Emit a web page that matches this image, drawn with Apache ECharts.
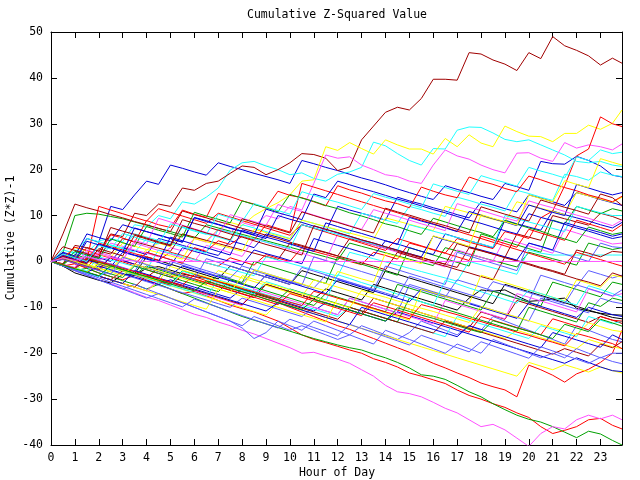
<!DOCTYPE html>
<html><head><meta charset="utf-8">
<script src="https://cdn.jsdelivr.net/npm/echarts@6/dist/echarts.min.js"></script>
<style>html,body{margin:0;padding:0;background:#fff}#c{width:640px;height:480px}</style>
</head><body><div id="c"></div>
<script>
// x positions (hour of day)
const hours = [0,0.5,1,1.5,2,2.5,3,3.5, 4,4.5,5,5.5,6,6.5,7,7.5, 8,8.5,9,9.5,10,10.5,11,11.5,
  12,12.5,13,13.5,14,14.5,15,15.5, 16,16.5,17,17.5,18,18.5,19,19.5, 20,20.5,21,21.5,22,22.5,23,23.5, 23.9];

// cumulative (Z*Z)-1 series
const s01 = [0,-1,-0.5,-1.5,-2.5,-3.3,-4,-3, -4,-5,-6,-7,-6.5,-7.5,-8.5,-9.5, -10.3,-11,-12,-13,-14.5,-16,-17,-17.7, -18.5,-19.3,-20,-21.2,-22,-23,-24.3,-25, -25.8,-26.6,-28,-29.2,-30,-31,-31.8,-33, -34,-36,-37.5,-36.8,-36,-34.5,-34.2,-35.7, -36.5];
const s02 = [0,-1,-2,-1.5,-2.5,-3.3,-4.2,-5, -6,-5,-6,-7,-8,-9,-10,-11, -12,-12.8,-13.6,-14.4,-15.2,-16,-16.8,-17.5, -18.2,-18.8,-19.3,-20.2,-21,-22,-23.2,-24.7, -25,-25.7,-27,-28.4,-29.5,-31,-32.3,-33.5, -34.4,-35,-36,-37.2,-38.4,-37,-37.6,-39, -40];
const s03 = [0,1,0.3,5,4.2,12,11.3,14.5, 17.5,16.8,21,20.3,19.5,18.8,21.5,20.7, 20,19.2,18.5,17.8,17,22,21.3,20.5, 19.8,19,18.2,17.5,16.7,15.8,15,14.2, 13.5,16.5,15.7,15,14.2,13.5,17,16.3, 15.5,21.8,21.3,21.2,22.9,22,20.8,18.8, 18.4];
const s04 = [0,-1,-2,-3,-4,-4.8,-5.8,-6.8, -7.8,-8.5,-9.5,-10.5,-11.5,-12.2,-13.2,-14, -15,-15.8,-16.8,-17.8,-18.8,-20,-19.8,-20.6, -21.3,-22.2,-23.6,-25,-27,-28.4,-28.8,-29.5, -30.7,-32,-33,-34.5,-36,-35.5,-36.7,-38.5, -40.3,-37.5,-36,-36.5,-34.5,-33.5,-34.3,-33.5, -34.5];
const s05 = [0,1,2.5,1.8,4.5,5,4.3,8, 7.5,10,9.3,13,12.5,14,16,19.9, 21.5,21.8,20.8,20,18.9,19.3,18.1,17.5, 19,19.5,20.5,26,25.2,23.5,22,21, 24.6,24.5,28.6,29.3,29.2,28,26.6,26.1, 26.5,25.4,24.3,23.2,21.8,21.5,21.8,21, 20.7];
const s06 = [0,-0.5,3.5,3,2.2,6,5.4,10.5, 10,12.5,12,16,15.5,17,17.5,19.2, 20.8,20.5,18.9,20,21.5,23.5,23.3,22.5, 19.8,20.6,26.5,29.5,32.5,33.6,33,35.5, 39.7,39.7,39.5,45.5,45.2,43.9,43,41.6, 45.5,44.2,49,47,46,44.8,42.8,44.3, 43.2];
const s07 = [0,-1,-2,0,-0.8,-1.6,1,0.3, 2.5,4,3.2,6,5.2,4.5,7,8.5, 7.8,10,11.5,12.8,14.5,17.5,17.8,25, 24.2,25.9,24.6,23.4,26.5,25.4,24.5,24.5, 23.4,26.8,25,27.6,25.8,25,29.5,28.3, 27.3,27.2,26.1,27.9,27.9,29.7,28.8,30.1, 33];
const s08 = [0,-1,-2,-3,-4,-5,-6,-5, -6,-7,-8,-9,-10,-11,-12,-13, -14.5,-16.8,-15.5,-13,-14,-15,-13,-14, -15,-16,-14,-15,-16,-17,-15.5,-13, -14,-15,-16,-14,-15,-12,-13,-14, -15,-16,-17,-18,-14,-15,-16,-17, -17.5];
const s09 = [0,-1,-2.5,-3.3,-4.1,-4.7,-2.8,-3, -1.5,-1.1,-1.9,-2.7,-3.3,-3.7,-4.5,-5.3, -6.2,-7,-5,-5.8,-6.6,-7.4,-8.2,-6, -6.8,-7.6,-8.4,-5,-5.8,-6.6,-7.4,-8.2, -9,-9.8,-10.6,-8,-6.2,-6.5,-6.2,-7.5, -8.7,-8.5,-8.2,-8,-10.2,-10.8,-11.3,-11.6, -11.7];
const s10 = [0,0.5,-0.5,-1.3,1.5,0.7,-0.1,-1, -1.8,-2.6,-3.4,-2.5,-3.3,-4.2,-5,-5.8, -6.6,-7.3,-8.2,-9,-10,-11,-12,-13, -14,-14.8,-15.8,-16.8,-17.8,-18.8,-19.8,-21, -22.2,-23.2,-24.3,-25.3,-26.5,-27.3,-28,-29.5, -22.6,-23.6,-24.8,-26.3,-24.5,-23.5,-22,-20, -15];
const s11 = [0,2,10,10.5,10.3,9.8,9.3,8.6, 7.9,7.2,6.5,5.8,5.1,8,7.3,6.6, 5.9,5.2,4.5,3.8,3.1,2.4,1.7,1, 0.3,4,3.3,2.6,1.9,1.2,0.5,-0.2, -0.9,3,2.3,1.6,0.9,0.2,-0.5,-1.2, 2,1.3,0.6,-0.1,-0.8,4,3.3,2.6, 3];
const s12 = [0,-0.7,-1.4,1.5,0.8,0,3,2.3, 1.5,5,4.3,3.5,2.8,2,1.3,4.5, 3.8,3,6,5.3,4.5,8,7.3,6.5, 12,11.2,10.5,9.8,9,14,13.2,12.5, 11.7,11,10.2,9.5,13,12.3,11.5,10.8, 14.5,13.8,13,12.2,15,14.3,13.5,12.8, 12.2];
const s13 = [0,0.5,-0.3,2,1.2,4,3.3,2.5, 1.8,1,3,2.3,5,4.2,7,6.3, 8.5,7.7,10,9.3,12,11.2,17,23.2, 22.5,22.8,21,20,18.9,18.5,17.5,17, 21,24.3,23,22.3,21,20,19.3,23.6, 23.7,22.5,21.8,25.9,24.7,25.4,25,24.3, 25.6];
const s14 = [0,0.5,2,1.3,0.6,3.5,2.8,2, 5,4.3,3.5,7.5,6.8,6,5.3,4.5, 8,7.3,6.5,5.8,5,9,8.3,7.5, 6.8,6,10.5,9.8,9,8.3,12,11.3, 10.5,9.8,14,13.3,12.5,11.8,11,15.5, 14.8,14,13.3,19,18.5,17.7,19.5,18.8, 18.5];
const s15 = [0,1,0.3,3,2.3,1.6,5,4.3, 3.6,2.9,2.2,6,5.3,4.6,3.9,3.2, 2.5,1.8,1.1,0.4,4,3.3,2.6,1.9, 1.2,5,4.3,3.6,2.9,2.2,1.5,0.8, 0.1,-0.6,-1.3,3,2.3,1.6,0.9,6, 5.3,4.6,10,9.3,8.6,7.9,10.5,9.8, 9];
const s16 = [0,-0.8,-1.6,-2.4,-3.2,-4,-4.8,-5.6, -6.4,-4.5,-5.3,-6.1,-6.9,-7.7,-8.5,-9.3, -10.1,-10.9,-11.7,-9,-9.8,-10.6,-11.4,-12.2, -13,-13.8,-14.6,-15.4,-16.2,-17,-17.8,-18.6, -19.4,-20.2,-21,-21.8,-22.6,-23.4,-24.2,-25, -22,-22.8,-23.6,-22.5,-23.3,-24.1,-23,-23.8, -24.3];
const s17 = [0,-0.8,-1.6,-2.4,-3.2,-2,-2.8,-3.6, -4.4,-5.2,-6,-6.8,-7.6,-8.4,-9.2,-10, -8,-8.8,-9.6,-10.4,-11.2,-12,-10,-10.8, -11.6,-8,-8.8,-9.6,-10.4,-11.2,-5,-5.8, -6.6,-7.4,-8.2,-9,-9.8,-10.6,-11.4,-12.2, -13,-8,-8.8,-9.6,-10.4,-11.2,-8,-8.8, -9.2];
const s18 = [0,-0.8,-1.6,0.5,-0.3,-1.1,-1.9,-2.7, 1,0.2,-0.6,-1.4,-2.2,-3,-3.8,-1, -1.8,-2.6,-3.4,-4.2,-5,-2,-2.8,-3.6, -4.4,-5.2,-6,-6.8,-2,-2.8,-3.6,-4.4, -5.2,-6,-6.8,-7.6,-8.4,-9.2,-5,-5.8, -6.6,-7.4,-8.2,-9,-9.8,-10.6,-11.4,-12.2, -12.5];
const s19 = [0,1.5,0.8,0,4,3.2,2.5,1.7, 1,0.3,2,1.3,0.5,-0.3,-1,0.8, 0,-0.8,1.5,0.7,0,3,2.2,1.5, 0.8,0,-0.7,2,1.3,0.5,4,3.3, 2.5,1.8,5,4.2,3.5,2.8,6.5,5.8, 5,9.5,11,16.5,23,24.5,31.5,30, 29.4];
const s20 = [0,-0.8,-1.6,-2.4,-0.5,-1.3,-2.1,-2.9, -1,-1.8,-2.6,-3.4,-4.2,-5,-3,-3.8, -4.6,0,-0.8,-1.6,-2.4,-3.2,-4,-4.8, 1,0.2,-0.6,-1.4,-2.2,-3,3,2.2, 1.4,0.6,-0.2,-1,6,5.2,4.4,3.6, 2.8,2,9,8.2,12,11.2,10.4,11.5, 11];
const s21 = [0,1.8,1,0.3,-0.5,-1.2,2,1.3, 0.5,-0.2,-1,3,2.2,1.5,0.7,0, -0.8,2.5,1.7,1,0.2,-0.5,5,4.2, 3.5,2.8,2,1.2,4.5,3.8,3,2.2, 1.5,6,5.2,4.5,3.8,3,9,8.2, 7.5,6.8,11,10.2,9.5,8.8,8,7.3, 8.5];
const s22 = [0,1.2,0.4,-0.4,2,1.2,0.4,4, 3.2,2.4,1.6,0.8,0,3.5,2.7,1.9, 1.1,5,4.2,3.4,2.6,1.8,1,0.2, 6,5.2,4.4,3.6,2.8,2,1.2,0.4, -0.4,-1.2,2.5,1.7,0.9,0.1,5,4.2, 3.4,2.6,1.8,7,6.2,5.4,4.6,3.8, 4];
const s23 = [0,-0.7,-1.4,-2.1,1,0.3,-0.4,-1.1, -1.8,2.5,1.8,1.1,0.4,-0.3,-1,-1.7, -2.4,-3.1,1,0.3,-0.4,-1.1,-1.8,-2.5, -3.2,2,1.3,0.6,-0.1,-0.8,-1.5,-2.2, -2.9,-3.6,-4.3,0,-0.7,-1.4,-2.1,-2.8, 2.5,1.8,1.4,1.4,1.4,1.4,1.4,1.4, 1.4];
const s24 = [0,-0.8,-1.6,0.5,-0.3,-1.1,-1.9,-2.7, -3.5,-1.5,-2.3,-3.1,-3.9,-4.7,-5.5,-6.3, -7.1,-7.9,-5,-5.8,-6.6,-7.4,-8.2,-9, -9.8,-10.6,-11.4,-8,-8.8,-9.6,-10.4,-11.2, -12,-12.8,-13.6,-14.4,-11,-11.8,-12.6,-8.5, -9.3,-10.1,-10.9,-11.7,-12.5,-13.3,-12,-12.8, -13.5];
const s25 = [0,1,0.2,-0.6,-1.4,-2.2,1,0.2, -0.6,-1.4,-2.2,-3,-3.8,-4.6,-2,-2.8, -3.6,-4.4,-5.2,-6,-6.8,-7.6,-4,-4.8, -5.6,-6.4,-7.2,-8,-8.8,-9.6,-10.4,-11.2, -12,-12.8,-13.6,-14.4,-15.2,-16,-16.8,-15, -15.8,-16.6,-17.4,-18.2,-19,-17,-17.8,-18.6, -19];
const s26 = [0,0.6,-0.2,-1,-1.8,-0.5,-1.3,-2.1, -2.9,-3.7,0,-0.8,-1.6,-2.4,-3.2,-4, -4.8,-2,-2.8,-3.6,-4.4,-5.2,1,0.2, -0.6,-1.4,-2.2,-3,-3.8,-4.6,-5.4,-6.2, -7,-7.8,-4,-4.8,-5.6,-6.4,-7.2,-8, -8.8,-3,-3.8,-4.6,-5.4,-2,-2.8,-3.6, -3];
const s27 = [0,-0.5,1,0.3,12,11.2,10.4,9.6, 8.8,11.5,10.7,9.9,9.1,8.3,10.5,9.7, 8.9,8.1,7.3,6.5,5.7,8,7.2,6.4, 5.6,4.8,4,3.2,2.4,5,4.2,3.4, 2.6,1.8,1,0.2,5.5,4.7,3.9,3.1, 7,6.2,5.4,4.6,9,8.2,7.4,6.6, 8];
const s28 = [0,0.5,-0.3,-1.1,-1.9,-2.7,-3.5,-1, -1.8,-2.6,-3.4,-4.2,-5,-5.8,-6.6,-4, -4.8,-5.6,-6.4,-7.2,-8,-8.8,-9.6,-7, -7.8,-8.6,-9.4,-10.2,-11,-5,-5.8,-6.6, -7.4,-8.2,-9,-9.8,-10.6,-6.5,-7.3,-8.1, -8.9,-9.7,-4.5,-5.3,-6.1,-6.9,-7.7,-4.5, -5];
const s29 = [0,-0.8,-1.6,-2.4,-1,-1.8,-2.6,-3.4, -4.2,-5,-4,-4.8,-5.6,-6.4,-7.2,-8, -6,-6.8,-7.6,-8.4,-9.2,-10,-10.8,-9, -9.8,-10.6,-11.4,-12.2,-13,-11,-11.8,-12.6, -13.4,-14.2,-15,-15.8,-16.6,-17.4,-18.2,-19, -19.8,-20.6,-21.4,-22.2,-21,-22,-23,-23.8, -24];
const s30 = [0,-0.8,-1.6,-2.4,-3.2,-4,-4.8,-5.6, -6.4,-4,-4.8,-5.6,-6.4,-7.2,-8,-8.8, -9.6,-6,-6.8,-7.6,-8.4,-9.2,-10,-10.8, -11.6,-8,-8.8,-9.6,-10.4,-11.2,-12,-12.8, -13.6,-8.5,-9.3,-10.1,-10.9,-11.7,-12.5,-7, -7.8,-8.6,-9.4,-10.2,-11,-6,-6.8,-7.6, -7];
const s31 = [0,-0.8,-1.6,-2.4,-3.2,-4,-2,-2.8, -3.6,-4.4,-5.2,-6,-6.8,-7.6,-4,-4.8, -5.6,-6.4,-7.2,-8,-8.8,-9.6,-10.4,-11.2, -12,-10,-10.8,-11.6,-12.4,-13.2,-14,-14.8, -15.6,-16.4,-12,-12.8,-13.6,-14.4,-15.2,-16, -16.8,-14,-14.8,-15.6,-16.4,-12,-12.8,-13.6, -13];
const s32 = [0,6,12.5,11.7,11,10.2,9.5,8.7, 8,7.2,6.5,11,10.2,9.5,8.7,8, 7.2,6.5,5.7,5,4.2,3.5,2.7,2, 1.2,0.5,-0.3,-1,-1.8,2,1.2,0.5, -0.3,-1,-1.8,-2.5,-3.3,-4,1,0.2, -0.5,-1.3,-2,-2.8,2.5,1.8,1,2.2, 2];
const s33 = [0,0.6,3,2.3,1.6,0.9,4,3.3, 2.6,1.9,1.2,0.5,5,4.3,3.6,2.9, 2.2,7,6.3,5.6,4.9,9,8.3,7.6, 6.9,6.2,5.5,4.8,9.5,8.8,8.1,7.4, 6.7,12,11.3,10.6,9.9,9.2,8.5,13, 12.3,11.6,10.9,10.2,15,14.3,13.6,12.9, 14];
const s34 = [0,-0.8,-1.6,1,0.2,-0.6,-1.4,-2.2, 2,1.2,0.4,-0.4,-1.2,-2,-2.8,-3.6, -1,-1.8,-2.6,-3.4,-4.2,-5,-5.8,-3, -3.8,-4.6,-5.4,-6.2,-1,-1.8,-2.6,-3.4, -4.2,-5,2,1.2,0.4,-0.4,-1.2,-2, 4,3.2,2.4,1.6,0.8,0,4,3.2, 3];
const s35 = [0,0.5,-0.3,-1.1,-1.9,1,0.2,-0.6, 2,1.2,0.4,-0.4,3,2.2,4.5,3.7, 5.5,4.7,8,7.2,6.4,17,16.2,15.4, 14.6,13.8,13,12.2,11.4,10.6,9.8,9, 8.2,7.4,6.6,5.8,5,4.2,3.4,2.6, 1.8,1,0.2,-0.6,2,1.2,0.4,-0.4, -1];
const s36 = [0,-0.8,1.5,0.7,-0.1,-0.9,-1.7,-2.5, -3.3,-4.1,-4.9,-2,-2.8,-3.6,-4.4,-5.2, -6,-6.8,-7.6,-8.4,-6,-6.8,-7.6,-8.4, -9.2,-10,-10.8,-11.6,-12.4,-13.2,-8,-8.8, -9.6,-10.4,-11.2,-12,-12.8,-13.6,-14.4,-15.2, -10,-10.8,-11.6,-12.4,-13.2,-9,-9.8,-8, -8.5];
const s37 = [0,0.8,0,-0.8,-1.6,1,0.2,-0.6, -1.4,-2.2,-3,-1,-1.8,-2.6,-3.4,-4.2, -5,-5.8,-3,-3.8,-4.6,-5.4,-6.2,-7, -4,-4.8,-5.6,-6.4,-7.2,-8,-8.8,-6, -6.8,-7.6,-8.4,-9.2,-10,-10.8,-11.6,-12.4, -9,-9.8,-10.6,-11.4,-12.2,-10,-10.8,-11.6, -12];
const s38 = [0,2.5,1.8,5,4.3,3.6,2.9,6, 5.3,4.6,3.9,3.2,2.5,1.8,7,6.3, 5.6,4.9,4.2,3.5,2.8,8,7.3,6.6, 5.9,5.2,4.5,3.8,3.1,2.4,8,7.3, 6.6,5.9,5.2,4.5,3.8,3.1,10,9.3, 8.6,7.9,7.2,6.5,12,11.3,10.6,10, 10];
const s39 = [0,-0.8,-1.6,-2.4,-3.2,-4,-4.8,-5.6, -3,-3.8,-4.6,-5.4,-6.2,-7,-7.8,-8.6, -9.4,-7,-7.8,-8.6,-9.4,-10.2,-11,-11.8, -12.6,-10,-10.8,-11.6,-12.4,-13.2,-14,-14.8, -15.6,-13,-13.8,-14.6,-15.4,-16.2,-17,-17.8, -18.6,-19.4,-20.2,-19,-19.8,-20.6,-18,-18.8, -17.5];
const s40 = [0,-0.8,-1.6,-2.4,-3.2,-4,-4.8,-5.6, -6.4,-7.2,-8,-8.8,-9.6,-10.4,-6,-6.8, -7.6,-8.4,-9.2,-10,-10.8,-11.6,-12.4,-13.2, -8,-8.8,-9.6,-10.4,-11.2,-12,-12.8,-6, -6.8,-7.6,-8.4,-9.2,-3,-3.8,-4.6,-5.4, -6.2,-7,-7.8,-8.6,-4,-4.8,-5.6,-3, -3.4];
const s41 = [0,-1,-2,-3,-4,-5,-6,-7, -8,-7,-8,-9,-10,-11,-12,-13, -14,-12,-13,-14,-15,-14,-15,-16, -17,-16,-17,-18,-15,-16,-17,-18, -19,-20,-18,-19,-20,-17,-18,-19, -20,-21,-20,-21,-19,-20,-21,-20, -20];
const s42 = [0,-0.8,-1.6,-2.4,-3.2,-4,-2,-2.8, -3.6,-4.4,-5.2,-3,-3.8,-4.6,-5.4,-6.2, -7,-7.8,-8.6,-9.4,-7,-7.8,-8.6,-9.4, -10.2,-11,-11.8,-9,-9.8,-10.6,-11.4,-12.2, -13,-13.8,-14.6,-15.4,-12,-12.8,-13.6,-14.4, -15.2,-16,-12.5,-13.3,-14.1,-14.9,-12,-12.8, -13];
const s43 = [0,2,1.2,6,5.2,4.5,8,7.2, 6.5,5.7,5,4.2,9.5,8.7,8,7.2, 6.5,5.7,5,10,9.2,8.5,7.7,7, 6.2,5.5,4.7,4,3.2,2.5,1.7,1, 5.5,4.7,4,3.2,2.5,1.8,1,0.3, 4,3.3,2.5,8.5,7.7,7,6.3,5.5, 6];
const s44 = [0,-0.8,-1.6,-2.4,-3.2,-4,-4.8,-2, -2.8,-3.6,-4.4,-5.2,-6,-6.8,-7.6,-8.4, -9.2,-10,-10.8,-9,-9.8,-10.6,-11.4,-12.2, -13,-13.8,-10,-10.8,-11.6,-12.4,-13.2,-14, -14.8,-15.6,-16.4,-14,-14.8,-15.6,-16.4,-17.2, -18,-18.8,-15.5,-16.3,-17.1,-17.9,-18.7,-16, -17];
const s45 = [0,0.8,0.2,1,0.4,0.9,0.3,0.1, 0,0,0,0,0,0,0,0, 0,0,0,0,0,0,0,0, 0,0,0,0,0,0,0,0, 0,0,0,0,0,0,0,0, 0,0,0,0,0,0,0,0, 0];
const s46 = [0,0.7,3.1,2.4,1.5,5.8,5.1,4.2, 8.9,8,7.4,11.2,10.3,9.6,14.8,14.1, 13.2,12.5,11.6,15.3,14.4,13.9,13,12.1, 16.5,15.6,14.9,14,13.2,12.6,11.7,16.2, 15.3,14.5,13.9,18.4,17.5,16.8,15.9,15.2, 18.6,17.8,16.9,16.1,15.4,14.5,13.8,13, 14.2];
const s47 = [0,-0.6,2.2,1.4,0.6,4.9,4.1,3.3, 7.6,6.8,6.1,5.3,10.7,9.9,9.2,8.4, 13.2,12.4,11.7,10.8,14.6,13.8,13.1,12.2, 11.5,10.6,9.9,9.1,8.2,7.6,6.7,5.9, 9.4,8.6,7.8,7,6.3,5.4,8.9,8.1, 7.3,6.6,5.7,4.9,4.1,7.5,6.7,5.9, 6.3];
const s48 = [0,1.3,0.5,-0.3,3.8,3,2.2,1.4, 0.7,-0.1,5.3,4.5,3.7,3,2.2,1.4, 6.9,6.1,5.3,4.6,3.8,3,2.2,8.4, 7.6,6.8,6.1,5.3,4.5,3.7,9.6,8.8, 8.1,7.3,6.5,10.9,10.1,9.3,8.6,7.8, 12.3,11.5,10.7,10,16.8,16,15.2,14.5, 15];
const s49 = [0,-0.7,-1.3,2.5,1.7,0.9,0.2,4.6, 3.8,9.4,8.6,7.9,7.1,6.3,5.6,10.2, 9.4,8.7,7.9,12.4,11.6,10.9,10.1,9.3, 8.6,7.8,7,11.3,10.5,9.8,9,8.2, 7.5,6.7,12.6,11.8,11.1,10.3,9.5,8.8, 13.2,12.4,11.7,10.9,10.1,9.4,8.6,7.8, 9];
const s50 = [0,-0.9,-1.7,-2.6,-3.4,-1.2,-2,-2.9, -3.7,-4.6,-5.4,-2.1,-2.9,-3.8,-4.6,-5.5, -6.3,-7.1,-4.4,-5.2,-6.1,-6.9,-7.7,-8.6, -2.9,-3.7,-4.6,-5.4,-6.2,-7.1,-7.9,-8.8, -9.6,-4.1,-4.9,-5.8,-6.6,-7.4,-8.3,-9.1, -6.2,-7,-7.8,-8.7,-9.5,-5.3,-6.1,-7, -7.8];
const s51 = [0,3.2,2.4,1.7,0.9,7.4,6.6,5.9, 5.1,4.3,3.6,9.1,8.3,7.6,6.8,6, 5.3,4.5,3.7,3,2.2,1.4,7.8,7, 6.3,5.5,4.7,4,3.2,2.4,1.7,0.9, 0.1,-0.6,3.9,3.1,2.4,1.6,0.8,0.1, -0.7,-1.5,-2.2,-3,-3.8,-4.5,-5.3,-2.5, -3.2];
const s52 = [0,-0.8,-1.5,-2.3,-0.4,-1.2,-2,-2.7, -3.5,-4.3,-1.1,-1.9,-2.6,-3.4,-4.2,-4.9, -5.7,-1.8,-2.6,-3.4,-4.1,-4.9,-5.7,-6.4, -2.2,-3,-3.8,-4.5,1.8,1,0.3,-0.5, 5.6,4.8,4.1,3.3,10.2,9.4,8.7,7.9, 14.5,13.7,13,17.6,16.8,16.1,22.4,21.6, 21];
const s53 = [0,-0.9,-1.8,-2.7,-3.6,-4.5,-5.4,-6.3, -7.2,-8.1,-9,-9.9,-8.2,-9.1,-10,-10.9, -11.8,-12.7,-13.6,-14.5,-12.6,-13.5,-14.4,-15.3, -16.2,-13.7,-14.6,-15.5,-16.4,-17.3,-18.2,-16.1, -17,-17.9,-18.8,-19.7,-17.5,-18.4,-19.3,-20.2, -21.1,-18.6,-19.5,-20.4,-21.3,-22.2,-20.9,-21.8, -22.3];
const s54 = [0,-0.7,-1.5,0.8,0,-0.7,-1.5,-2.2, -3,-3.7,-4.5,-5.2,-2.9,-3.6,-4.4,-5.1, -5.9,-6.6,-7.4,-8.1,-8.9,-9.6,-6.5,-7.2, -8,-8.7,-9.5,-10.2,-11,-11.7,-12.5,-9.4, -10.1,-10.9,-11.6,-12.4,-13.1,-13.9,-14.6,-15.4, -16.1,-16.9,-17.6,-18.4,-15.7,-16.4,-17.2,-17.9, -19];
const s55 = [0,0.9,0.1,4.4,3.6,2.9,2.1,7.3, 6.5,5.8,5,4.2,9.6,8.9,8.1,7.3, 6.6,5.8,11.4,10.6,9.9,9.1,14.7,13.9, 17.5,16.7,15.9,15.2,14.4,13.6,12.9,12.1, 11.3,10.6,9.8,9,8.3,7.5,6.7,6, 10.4,9.6,8.9,8.1,7.3,6.6,5.8,5, 5.4];
const s56 = [0,1.6,0.8,0,3.5,2.7,6.1,5.3, 4.5,3.8,8.2,7.4,6.6,5.9,10.3,9.5, 8.7,12.6,11.8,11.1,10.3,15.2,14.4,13.6, 12.9,12.1,11.3,14.8,14,13.3,12.5,11.7, 16.9,16.1,15.3,14.6,18.7,17.9,17.2,16.4, 20.5,19.7,19,18.2,22.8,22,24.3,23.5, 23.8];
const s57 = [0,0.8,0,-0.8,-1.5,-2.3,-3.1,-0.6, -1.4,-2.1,-2.9,-3.7,-4.5,-5.2,-6,-6.8, -3.1,-3.9,-4.7,-5.4,-6.2,-7,-7.8,-8.5, -9.3,-10.1,-6.3,-7.1,-7.8,-8.6,-9.4,-10.2, -10.9,-11.7,-12.5,-13.3,-9.8,-10.6,-11.4,-12.1, -12.9,-13.7,-14.5,-15.2,-16,-13.4,-14.2,-15, -15.3];
const s58 = [0,1.1,0.3,-0.5,2.8,2,1.2,5.7, 4.9,4.1,3.4,7.8,7,6.2,5.5,4.7, 9.3,8.5,7.7,7,6.2,10.8,10,9.2, 8.5,7.7,6.9,6.2,11.6,10.8,10.1,9.3, 8.5,7.8,7,6.2,11.9,11.1,10.3,9.6, 8.8,13.4,12.6,11.8,11.1,10.3,14.7,13.9, 12.2];
const s59 = [0,-0.8,-1.6,-2.3,-3.1,-1,-1.8,-2.6, -3.3,-4.1,-4.9,-5.7,-6.4,-4.3,-5.1,-5.9, -6.6,-7.4,-8.2,-9,-9.7,-10.5,-8.3,-9.1, -9.9,-10.6,-11.4,-12.2,-13,-10.1,-10.9,-11.7, -12.4,-13.2,-14,-14.8,-15.5,-12.9,-13.7,-14.5, -15.2,-16,-16.8,-13.7,-14.5,-15.3,-12.6,-13.4, -14.1];
const s60 = [0,0.4,-0.4,-1.2,-2,-2.8,0.9,0.1, -0.7,-1.5,-2.3,-3.1,-3.9,0.6,-0.2,-1, -1.8,-2.6,-3.4,-4.2,-5,-1.3,-2.1,-2.9, -3.7,-4.5,-5.3,-6.1,-6.9,-7.7,-3.2,-4, -4.8,-5.6,-6.4,-7.2,-8,-4.4,-5.2,-6, -6.8,-7.6,-8.4,-9.2,-5.1,-5.9,-6.7,-7.5, -6.2];

const allSeries = [s01,s02,s03,s04,s05,s06,s07,s08,s09,s10,s11,s12,s13,s14,s15,s16,s17,s18,s19,s20,s21,s22,s23,
  s24,s25,s26,s27,s28,s29,s30,s31,s32,s33,s34,s35,s36,s37,s38,s39,s40,s41,s42,s43,s44,
  s46,s47,s48,s49,s50,s51,s52,s53,s54,s55,s56,s57,s58,s59,s60,s45];

// line colours (style)
const C = {red:'#ff0000', green:'#00a000', blue:'#0000d8', mag:'#ff50ff', cyan:'#20ffff',
  dred:'#a00000', yel:'#ffff00', lblue:'#5c5cff', black:'#000000'};
const colorKeys = ['red','green','blue','mag','cyan','dred','yel','lblue','black',
  'red','green','blue','mag','cyan','dred','yel','lblue','black',
  'red','green','blue','mag','cyan','dred','yel','lblue',
  'red','green','blue','mag','cyan','dred','yel','lblue',
  'red','green','blue','cyan','dred','yel','lblue','red','blue','blue',
  'red','green','blue','mag','cyan','dred','yel','lblue','red','blue','cyan','yel','dred','green','lblue',
  'mag'];

const FONT = 'DejaVu Sans Mono';
const FS = 11.5;

const chart = echarts.init(document.getElementById('c'), null, {renderer:'canvas'});
const axisCommon = {
  axisLine:{onZero:false, lineStyle:{color:'#000', width:1}},
  axisTick:{inside:true, length:6, lineStyle:{color:'#000', width:1}},
  splitLine:{show:false}
};
const option = {
  animation:false,
  backgroundColor:'#ffffff',
  grid:{left:51, right:18, top:32, bottom:35},
  xAxis:[
    Object.assign({type:'value', min:0, max:23.9, interval:1, position:'bottom',
      axisLabel:{color:'#000', fontFamily:FONT, fontSize:FS, margin:7, showMaxLabel:false}}, axisCommon),
    Object.assign({type:'value', min:0, max:23.9, interval:1, position:'top',
      axisLabel:{show:false}}, axisCommon)
  ],
  yAxis:[
    Object.assign({type:'value', min:-40, max:50, interval:10, position:'left',
      axisLabel:{color:'#000', fontFamily:FONT, fontSize:FS, margin:8}}, axisCommon),
    Object.assign({type:'value', min:-40, max:50, interval:10, position:'right',
      axisLabel:{show:false}}, axisCommon)
  ],
  graphic:[
    {type:'text', x:337, y:15, style:{text:'Cumulative Z-Squared Value', fill:'#000',
      font:FS+'px "'+FONT+'"', textAlign:'center', textVerticalAlign:'middle'}},
    {type:'text', x:337, y:473, style:{text:'Hour of Day', fill:'#000',
      font:FS+'px "'+FONT+'"', textAlign:'center', textVerticalAlign:'middle'}},
    {type:'text', x:11, y:238, rotation:Math.PI/2, style:{text:'Cumulative (Z*Z)-1', fill:'#000',
      font:FS+'px "'+FONT+'"', textAlign:'center', textVerticalAlign:'middle'}}
  ],
  series: allSeries.map((vals, k) => ({
    type:'line',
    xAxisIndex:0, yAxisIndex:0,
    data: vals.map((v, i) => [hours[i], v]),
    showSymbol:false, symbol:'none',
    clip:true,
    lineStyle:{width:1, color:C[colorKeys[k]]},
    itemStyle:{color:C[colorKeys[k]]},
    emphasis:{disabled:true},
    silent:true,
    z:2+k*0.001
  }))
};
chart.setOption(option);
</script>
</body></html>
